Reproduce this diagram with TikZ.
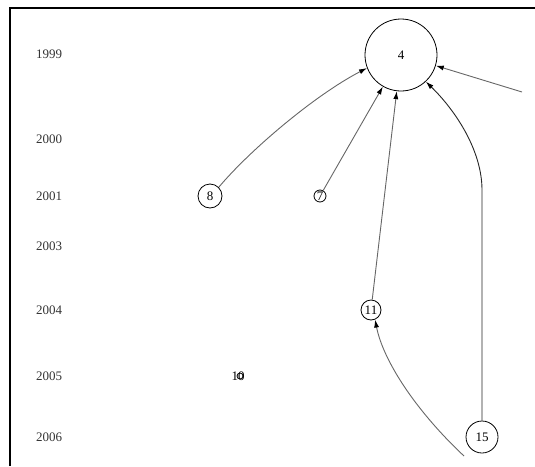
\documentclass[tikz,border=0pt]{standalone}
\usepackage{fontspec}
\setmainfont{Liberation Serif}
\usetikzlibrary{arrows.meta}
\begin{document}
\begin{tikzpicture}[x=1pt, y=-1pt,
    vtx/.style = {draw, circle, inner sep = 0pt, line width = 0.8pt},
    cite/.style = {-{Latex[length=8pt, width=5pt, color=black]}, draw = black!60, line width = 0.9pt},
    yearlbl/.style = {text = black!80, font = \fontsize{13}{15}\selectfont}]
    \useasboundingbox (0,0) rectangle (535,466);
    \draw[line width = 1.2pt] (10,466) -- (10,8) -- (535,8);

    % years down the left side
    \foreach \yr/\ypos in {1999/54, 2000/139, 2001/196, 2003/246, 2004/310, 2005/376, 2006/437}
        \node[yearlbl] (y\yr) at (49,\ypos) {\yr};

    \node[vtx, minimum size = 72pt, label = {[font = \fontsize{13}{15}\selectfont]center:4}] (n4) at (401,55) {};
    \node[vtx, minimum size = 24pt, label = {[font = \fontsize{13}{15}\selectfont]center:8}] (n8) at (210,196) {};
    \node[vtx, minimum size = 12pt, label = {[font = \fontsize{13}{15}\selectfont]center:7}] (n7) at (320,196) {};
    \node[vtx, minimum size = 20pt, label = {[font = \fontsize{13}{15}\selectfont]center:11}] (n11) at (371,310) {};
    \node[vtx, minimum size = 6pt] (n10) at (240,376) {};
    \node[font = \fontsize{13}{15}\selectfont] (l10) at (238,376) {10};
    \node[vtx, minimum size = 32pt, label = {[font = \fontsize{13}{15}\selectfont]center:15}] (n15) at (482,437) {};
    \coordinate (east) at (522,92);
    \coordinate (south) at (464,456);

    \draw[cite] (n8.45) .. controls (250,150) and (315,95) .. (n4.201);
    \draw[cite] (n7) -- (n4);
    \draw[cite] (n11) -- (n4);
    \draw[cite, draw = black!85] (n15) -- (482,190) .. controls (482,150) and (455,110) .. (n4.-47);
    \draw[cite] (east) -- (n4);
    \draw[cite] (south) .. controls (415,410) and (383,360) .. (n11.-67);
\end{tikzpicture}
\end{document}
